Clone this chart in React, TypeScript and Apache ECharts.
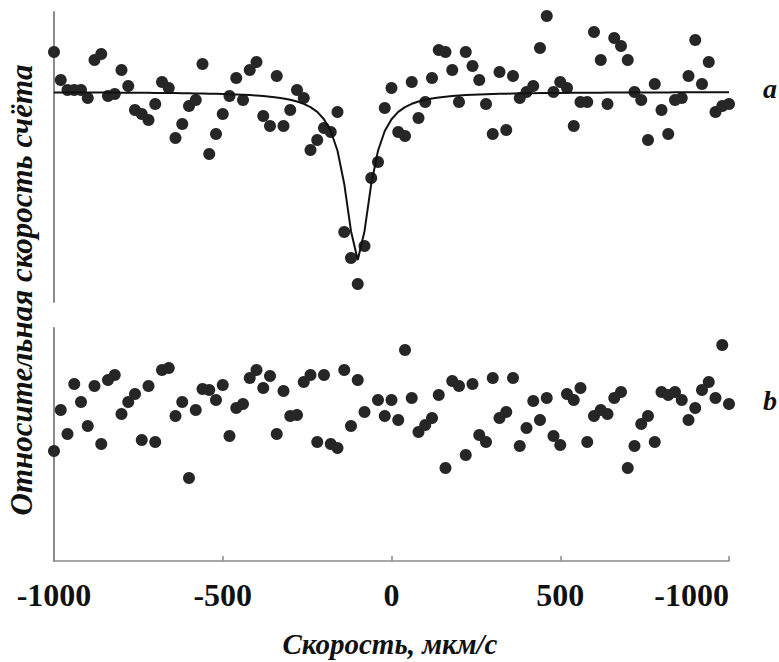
import React, { useEffect, useRef } from "react";
import * as echarts from "echarts";

// Velocity channels of the spectrometer, µm/s
const velocityStart = -1000;
const velocityStep = 20;

// (a) relative count rate in each channel
const spectrumCounts: number[] = [
  1.020, 1.006, 1.001, 1.001, 1.001, 0.997, 1.016, 1.019, 0.998, 0.999,
  1.011, 1.003, 0.991, 0.989, 0.986, 0.994, 1.005, 1.002, 0.977, 0.984,
  0.993, 0.996, 1.014, 0.969, 0.979, 0.989, 0.998, 1.007, 0.996, 1.011,
  1.015, 0.988, 0.983, 1.008, 0.983, 0.991, 1.001, 0.997, 0.971, 0.976,
  0.982, 0.980, 0.990, 0.930, 0.917, 0.904, 0.923, 0.957, 0.965, 0.992,
  1.002, 0.980, 0.978, 1.005, 0.987, 0.995, 1.007, 1.021, 1.020, 1.011,
  0.995, 1.020, 1.013, 1.006, 0.994, 0.979, 1.010, 0.981, 1.008, 0.997,
  1.000, 1.003, 1.022, 1.038, 1.000, 1.005, 1.002, 0.983, 0.995, 0.995,
  1.030, 1.016, 0.994, 1.027, 1.023, 1.016, 1.000, 0.996, 0.976, 1.004,
  0.991, 0.979, 0.996, 0.997, 1.008, 1.026, 1.004, 1.015, 0.990, 0.993,
  0.994,
];

// (b) residuals of the fit, same channels
const residuals: (number | null)[] = [
  -0.0255, -0.005, -0.017, 0.008, -0.001, -0.013, 0.007, -0.022, 0.010, 0.0125,
  -0.007, -0.001, 0.003, -0.020, 0.007, -0.021, 0.015, 0.016, -0.008, -0.001,
  -0.039, -0.005, 0.0055, 0.005, 0.000, 0.0075, -0.018, -0.004, -0.002, 0.011,
  0.015, 0.006, 0.012, -0.017, 0.0045, -0.008, -0.0075, 0.009, 0.0125, -0.021,
  0.0125, -0.022, -0.024, 0.015, -0.013, 0.010, -0.006, null, 0.000, -0.008,
  0.000, -0.010, 0.025, 0.001, -0.016, -0.0125, -0.009, 0.0025, -0.034, 0.0095,
  0.007, -0.0275, 0.008, -0.0175, -0.021, 0.011, -0.009, -0.006, 0.011, -0.023,
  -0.014, -0.0005, -0.010, 0.001, -0.018, -0.0225, 0.003, 0.000, 0.006, -0.021,
  -0.008, -0.005, -0.007, 0.001, 0.004, -0.034, -0.023, -0.012, -0.008, -0.021,
  0.004, 0.0025, 0.004, 0.000, -0.010, -0.004, 0.005, 0.009, 0.001, 0.0275,
  -0.002,
];

// Lorentzian line fitted to spectrum (a)
const fitBaseline = 1.0;
const fitDepth = 0.084;
const fitCenter = -100;
const fitHalfWidth = 44;

const xTickLabels = ["-1000", "-500", "0", "500", "-1000"];
const panelLabels = ["a", "b"];
const xTitle = "Скорость, мкм/с";
const yTitle = "Относительная скорость счёта";

const serif = "'Liberation Serif', 'Times New Roman', serif";
const dotColor = "#262626";
const axisGrey = "#8a8a8a";

function velocityOf(i: number) {
  return velocityStart + velocityStep * i;
}

export default function App() {
  const ref = useRef<HTMLDivElement>(null);

  useEffect(() => {
    if (!ref.current) return;
    const chart = echarts.init(ref.current, undefined, { renderer: "svg" });

    const spectrumPoints = spectrumCounts.map((v, i) => [velocityOf(i), v]);
    const residualPoints = residuals
      .map((v, i) => (v === null ? null : [velocityOf(i), v]))
      .filter((p) => p !== null) as number[][];
    const fitPoints = spectrumCounts.map((_, i) => {
      const x = velocityOf(i);
      const g2 = fitHalfWidth * fitHalfWidth;
      const d = x - fitCenter;
      return [x, fitBaseline - fitDepth * (g2 / (g2 + d * d))];
    });

    const gridLeft = 54;
    const gridWidth = 675;

    chart.setOption({
      animation: false,
      backgroundColor: "#ffffff",
      grid: [
        { left: gridLeft, width: gridWidth, top: 12, height: 290 },
        { left: gridLeft, width: gridWidth, top: 328, height: 233 },
      ],
      xAxis: [
        {
          gridIndex: 0,
          type: "value",
          min: -1000,
          max: 1000,
          interval: 500,
          show: false,
        },
        {
          gridIndex: 1,
          type: "value",
          min: -1000,
          max: 1000,
          interval: 500,
          splitLine: { show: false },
          axisLine: { show: true, onZero: false, lineStyle: { color: axisGrey, width: 1.5 } },
          axisTick: { show: true, inside: true, length: 5, lineStyle: { color: axisGrey, width: 1.5 } },
          axisLabel: {
            show: true,
            margin: 18,
            fontFamily: serif,
            fontWeight: "bold",
            fontSize: 32,
            color: "#111",
            alignMaxLabel: "right",
            formatter: (_v: number, idx: number) => xTickLabels[idx] ?? "",
          },
        },
      ],
      yAxis: [
        {
          gridIndex: 0,
          type: "value",
          min: 0.895,
          max: 1.04,
          splitLine: { show: false },
          axisLine: { show: true, onZero: false, lineStyle: { color: axisGrey, width: 2 } },
          axisTick: { show: false },
          axisLabel: { show: false },
        },
        {
          gridIndex: 1,
          type: "value",
          min: -0.0805,
          max: 0.036,
          splitLine: { show: false },
          axisLine: { show: true, onZero: false, lineStyle: { color: axisGrey, width: 2 } },
          axisTick: { show: false },
          axisLabel: { show: false },
        },
      ],
      series: [
        {
          type: "scatter",
          xAxisIndex: 0,
          yAxisIndex: 0,
          data: spectrumPoints,
          symbolSize: 12,
          itemStyle: { color: dotColor, opacity: 1 },
          z: 2,
        },
        {
          type: "line",
          xAxisIndex: 0,
          yAxisIndex: 0,
          data: fitPoints,
          showSymbol: false,
          symbol: "none",
          lineStyle: { color: "#111", width: 2 },
          z: 3,
        },
        {
          type: "scatter",
          xAxisIndex: 1,
          yAxisIndex: 1,
          data: residualPoints,
          symbolSize: 12,
          itemStyle: { color: dotColor, opacity: 1 },
          z: 2,
        },
      ],
      graphic: [
        {
          type: "text",
          x: 21,
          y: 290,
          rotation: Math.PI / 2,
          style: {
            text: yTitle,
            font: `italic bold 31px ${serif}`,
            fill: "#111",
            textAlign: "center",
            textVerticalAlign: "middle",
          },
        },
        {
          type: "text",
          x: 390,
          y: 644,
          style: {
            text: xTitle,
            font: `italic bold 29px ${serif}`,
            fill: "#111",
            textAlign: "center",
            textVerticalAlign: "middle",
          },
        },
        {
          type: "text",
          x: 770,
          y: 88,
          style: {
            text: panelLabels[0],
            font: `italic bold 28px ${serif}`,
            fill: "#111",
            textAlign: "center",
            textVerticalAlign: "middle",
          },
        },
        {
          type: "text",
          x: 770,
          y: 400,
          style: {
            text: panelLabels[1],
            font: `italic bold 28px ${serif}`,
            fill: "#111",
            textAlign: "center",
            textVerticalAlign: "middle",
          },
        },
      ],
    });

    return () => chart.dispose();
  }, []);

  return (
    <div
      ref={ref}
      style={{ position: "fixed", left: 0, top: 0, width: 779, height: 662 }}
    />
  );
}
